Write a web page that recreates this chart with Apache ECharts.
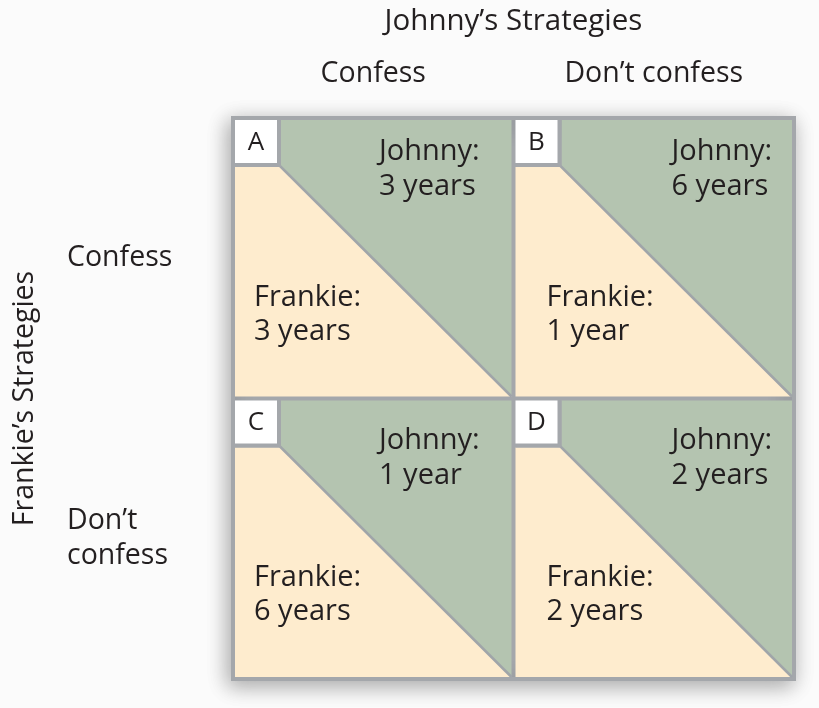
<!DOCTYPE html>
<html>
<head>
<meta charset="utf-8">
<script src="https://cdn.jsdelivr.net/npm/echarts@6/dist/echarts.min.js"></script>
<style>
html,body{margin:0;padding:0;background:#fbfbfb;}
#chart{width:819px;height:708px;}
</style>
</head>
<body>
<div id="chart"></div>
<script>
const johnnyStrategies = ['Confess', 'Don’t confess'];
const frankieStrategies = ['Confess', 'Don’t\nconfess'];
const cellLetters = ['A', 'B', 'C', 'D'];
const johnnyYears = [3, 6, 1, 2];
const frankieYears = [3, 1, 6, 2];

const FONT = '"Open Sans", "Noto Sans", sans-serif';
const TEXT = '#231f20';
const GREEN = '#b4c4b0';
const CREAM = '#feecce';
const GRAY = '#a4a7ab';

function yearsText(n) { return n + (n === 1 ? ' year' : ' years'); }

const cellData = cellLetters.map((l, i) => [i % 2, Math.floor(i / 2), i]);

const chart = echarts.init(document.getElementById('chart'));
chart.setOption({
  backgroundColor: '#fbfbfb',
  animation: false,
  grid: {
    left: 233, right: 25, top: 116, bottom: 29,
    show: true,
    backgroundColor: GRAY,
    borderColor: GRAY,
    borderWidth: 4,
    shadowBlur: 20,
    shadowColor: 'rgba(0,0,0,0.32)',
    shadowOffsetX: -3,
    shadowOffsetY: 5
  },
  xAxis: {
    type: 'category',
    position: 'top',
    data: johnnyStrategies,
    name: 'Johnny’s Strategies',
    nameLocation: 'middle',
    nameGap: 96,
    nameTextStyle: { fontFamily: FONT, fontSize: 29.5, color: TEXT, verticalAlign: 'middle', lineHeight: 34 },
    axisLine: { show: false },
    axisTick: { show: false },
    splitLine: { show: false },
    axisLabel: { fontFamily: FONT, fontSize: 28.5, color: TEXT, margin: 44, verticalAlign: 'middle', lineHeight: 34 }
  },
  yAxis: {
    type: 'category',
    inverse: true,
    data: frankieStrategies,
    name: 'Frankie’s Strategies',
    nameLocation: 'middle',
    nameRotate: 90,
    nameGap: 208,
    nameTextStyle: { fontFamily: FONT, fontSize: 28.5, color: TEXT, verticalAlign: 'middle', lineHeight: 34 },
    axisLine: { show: false },
    axisTick: { show: false },
    splitLine: { show: false },
    axisLabel: { fontFamily: FONT, fontSize: 28.5, color: TEXT, margin: 166, align: 'left', lineHeight: 35 }
  },
  series: [{
    type: 'custom',
    data: cellData,
    encode: { x: 0, y: 1 },
    renderItem: function (params, api) {
      const col = api.value(0), row = api.value(1), idx = api.value(2);
      const c = api.coord([col, row]);
      const s = api.size([1, 1]);
      const x0 = c[0] - s[0] / 2 + 2, y0 = c[1] - s[1] / 2 + 2;
      const x1 = c[0] + s[0] / 2 - 2, y1 = c[1] + s[1] / 2 - 2;
      const bw = 42, bh = 43, bb = 4;
      const jOff = row === 0 ? 49.5 : 57.5;
      const jx = col === 0 ? 144 : 156;
      const fx = col === 0 ? 19 : 31;
      return {
        type: 'group',
        children: [
          { type: 'polygon', shape: { points: [[x0 + bw + bb, y0], [x1, y0], [x1, y1], [x0 + bw + bb, y0 + bh + bb]] }, style: { fill: GREEN } },
          { type: 'polygon', shape: { points: [[x0, y0 + bh + bb], [x0 + bw + bb, y0 + bh + bb], [x1, y1], [x0, y1]] }, style: { fill: CREAM } },
          { type: 'line', shape: { x1: x0 + bw + bb - 1, y1: y0 + bh + bb - 1, x2: x1, y2: y1 }, style: { stroke: '#a0a5a9', lineWidth: 2.5 } },
          { type: 'rect', shape: { x: x0, y: y0, width: bw + bb, height: bh + bb }, style: { fill: GRAY } },
          { type: 'rect', shape: { x: x0, y: y0, width: bw, height: bh }, style: { fill: '#ffffff' } },
          { type: 'text', style: { text: cellLetters[idx], x: x0 + bw / 2, y: y0 + bh / 2 + 1, align: 'center', verticalAlign: 'middle', font: '26px ' + FONT, fill: TEXT } },
          { type: 'text', style: { text: 'Johnny:\n' + yearsText(johnnyYears[idx]), x: x0 + jx, y: y0 + jOff, align: 'left', verticalAlign: 'middle', font: '29px ' + FONT, lineHeight: 35, fill: TEXT } },
          { type: 'text', style: { text: 'Frankie:\n' + yearsText(frankieYears[idx]), x: x0 + fx, y: y0 + 194.5, align: 'left', verticalAlign: 'middle', font: '29px ' + FONT, lineHeight: 34, fill: TEXT } }
        ]
      };
    }
  }]
});
</script>
</body>
</html>
